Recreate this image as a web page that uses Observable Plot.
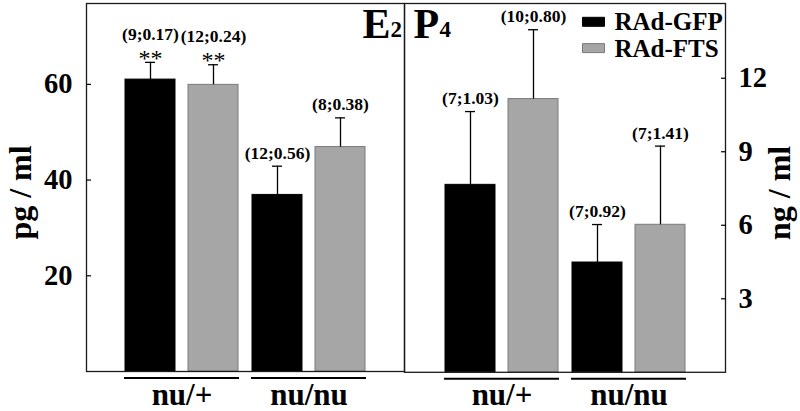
<!DOCTYPE html>
<html>
<head>
<meta charset="utf-8">
<script src="https://cdn.jsdelivr.net/npm/d3@7"></script>
<script src="https://cdn.jsdelivr.net/npm/@observablehq/plot@0.6"></script>
<style>
html, body { margin: 0; padding: 0; background: #fff; }
#chart { position: relative; width: 800px; height: 411px; overflow: hidden; background: #fff; }
#chart svg { position: absolute; left: 0; top: 0; }
</style>
</head>
<body>
<div id="chart"></div>
<script>
// ---- data ----
const groups = ["nu/+", "nu/nu"];
const treatments = ["RAd-GFP", "RAd-FTS"];
const barGroups = ["nu/+", "nu/+", "nu/nu", "nu/nu"];
const barTreatments = ["RAd-GFP", "RAd-FTS", "RAd-GFP", "RAd-FTS"];

const e2Means = [61.0, 59.9, 36.9, 46.9];
const e2Errors = [3.6, 4.2, 6.0, 6.1];
const e2Labels = ["(9;0.17)", "(12;0.24)", "(12;0.56)", "(8;0.38)"];
const e2Stars = ["**", "**", "", ""];
const e2Ticks = [20, 40, 60];
const e2Domain = [0, 76.9];
const e2AxisLabel = "pg / ml";
const e2Title = ["E", "2"];

const p4Means = [7.65, 11.15, 4.48, 6.02];
const p4Errors = [2.99, 2.83, 1.55, 3.21];
const p4Labels = ["(7;1.03)", "(10;0.80)", "(7;0.92)", "(7;1.41)"];
const p4Stars = ["", "", "", ""];
const p4Ticks = [3, 6, 9, 12];
const p4Domain = [0, 15.05];
const p4AxisLabel = "ng / ml";
const p4Title = ["P", "4"];

// ---- styles ----
const FONT = "'Liberation Serif', 'Times New Roman', serif";
const W = 800, H = 411;
const FILL = {"RAd-GFP": "#000000", "RAd-FTS": "#a6a6a6"};
const EDGE = {"RAd-GFP": "#000000", "RAd-FTS": "#7a7a7a"};
const svgStyle = {background: "transparent", fontFamily: FONT, fontWeight: "bold", overflow: "visible"};

function rows(means, errors, labels, stars) {
  return means.map((m, i) => ({
    group: barGroups[i], treatment: barTreatments[i],
    mean: m, top: m + errors[i], label: labels[i], stars: stars[i]
  }));
}

function rectSymbol(w, h) {
  return {draw(ctx) {
    ctx.moveTo(-w / 2, -h / 2); ctx.lineTo(w / 2, -h / 2);
    ctx.lineTo(w / 2, h / 2); ctx.lineTo(-w / 2, h / 2); ctx.closePath();
  }};
}

function basePlot(o) {
  const marks = [
    Plot.frame({stroke: "#1a1a1a", strokeWidth: 1.3}),
    Plot.axisY(o.ticks, {anchor: o.side, tickSize: -5, tickPadding: o.side === "left" ? 19 : 18,
      fontSize: 28.5, fontWeight: "bold", label: null, strokeWidth: 1.2}),
    Plot.text([o.axisLabel], {text: d => d, frameAnchor: o.side, rotate: -90,
      dx: o.side === "left" ? -56 : 64, dy: 5, lineAnchor: "bottom", textAnchor: "middle",
      fontSize: 32, fontWeight: "bold"}),
    Plot.text([o.title[0]], {text: d => d, frameAnchor: o.titleAnchor, dx: o.titleDx,
      dy: 4.5, lineAnchor: "top", textAnchor: o.titleAnchor === "top-right" ? "end" : "start",
      fontSize: 42, fontWeight: "bold"}),
    Plot.text([o.title[1]], {text: d => d, frameAnchor: o.titleAnchor, dx: o.subDx,
      dy: 17.5, lineAnchor: "top", textAnchor: "start", fontSize: 23, fontWeight: "bold"})
  ];
  if (o.legend) {
    treatments.forEach((t, i) => {
      marks.push(Plot.dot([t], {frameAnchor: "top-left", dx: 189, dy: 18.3 + i * 26.3,
        symbol: rectSymbol(22, 9), r: 5, fill: FILL[t], stroke: EDGE[t], strokeWidth: 1}));
      marks.push(Plot.text([t], {text: d => d, frameAnchor: "top-left", dx: 210, dy: 18.8 + i * 26.3,
        textAnchor: "start", lineAnchor: "middle", fontSize: 25, fontWeight: "bold"}));
    });
  }
  return Plot.plot({
    width: W, height: H,
    marginLeft: o.marginLeft, marginRight: o.marginRight, marginTop: 3, marginBottom: o.marginBottom,
    style: svgStyle,
    y: {domain: o.domain},
    marks
  });
}

function barPlot(o) {
  const data = o.data;
  const common = {fx: "group", x: "treatment"};
  return Plot.plot({
    width: W, height: H,
    marginLeft: o.marginLeft, marginRight: o.marginRight, marginTop: 3, marginBottom: o.marginBottom,
    style: svgStyle,
    fx: {domain: groups, paddingInner: 0.095, paddingOuter: o.fxOuter, axis: null, label: null},
    x: {domain: treatments, paddingInner: 0.2, paddingOuter: 0, axis: null},
    y: {domain: o.domain, axis: null},
    marks: [
      ...treatments.map(t => Plot.barY(data, {...common, filter: d => d.treatment === t,
        y: "mean", fill: FILL[t], stroke: EDGE[t], strokeWidth: 1})),
      Plot.ruleX(data, {...common, y1: "mean", y2: "top", stroke: "#000", strokeWidth: 1.3}),
      Plot.tickY(data, {...common, y: "top", insetLeft: 20, insetRight: 20, stroke: "#000", strokeWidth: 1.3}),
      Plot.text(data, {...common, filter: d => d.stars, y: "top", text: "label", dy: -22.5,
        lineAnchor: "bottom", fontSize: 17.5, fontWeight: "bold"}),
      Plot.text(data, {...common, filter: d => d.stars, y: "top", text: "stars", dy: 3.2,
        lineAnchor: "bottom", fontSize: 24, fontWeight: "normal"}),
      Plot.text(data, {...common, filter: d => !d.stars, y: "top", text: "label", dy: -7.5,
        lineAnchor: "bottom", fontSize: 17.5, fontWeight: "bold"}),
      Plot.ruleY([0], {dy: 6.5, stroke: "#000", strokeWidth: 2}),
      Plot.axisFx({anchor: "bottom", tickSize: 0, tickPadding: 11, label: null,
        fontSize: 31, fontWeight: "bold"})
    ]
  });
}

const left = {
  data: rows(e2Means, e2Errors, e2Labels, e2Stars), domain: e2Domain, ticks: e2Ticks,
  marginLeft: 86, marginRight: 396, marginBottom: 40, fxOuter: 0.29, side: "left",
  axisLabel: e2AxisLabel, title: e2Title, titleAnchor: "top-right", titleDx: -14, subDx: -14, legend: false
};
const right = {
  data: rows(p4Means, p4Errors, p4Labels, p4Stars), domain: p4Domain, ticks: p4Ticks,
  marginLeft: 404, marginRight: 75, marginBottom: 39.2, fxOuter: 0.31, side: "right",
  axisLabel: p4AxisLabel, title: p4Title, titleAnchor: "top-left", titleDx: 9, subDx: 35, legend: true
};

const chart = document.getElementById("chart");
chart.append(barPlot(left), barPlot(right), basePlot(left), basePlot(right));
</script>
</body>
</html>
